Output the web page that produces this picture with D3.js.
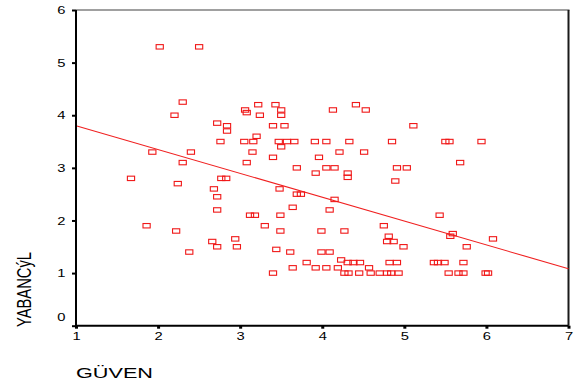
<!DOCTYPE html>
<html>
<head>
<meta charset="utf-8">
<script src="https://cdn.jsdelivr.net/npm/d3@7"></script>
<style>
  html, body { margin: 0; padding: 0; background: #fff; }
  svg { display: block; }
  text { font-family: "Liberation Sans", Arial, sans-serif; fill: #000; }
</style>
</head>
<body>
<svg id="chart" width="575" height="385"></svg>
<script>
// ---- data ----
const guven = [
  2.02, 2.50, 2.30, 2.20, 2.72, 2.84, 2.84, 2.76, 1.93, 2.40,
  2.30, 1.67, 2.77, 2.83, 3.06, 3.08, 3.22, 3.24, 3.43, 3.50,
  3.50, 3.40, 3.54, 3.20, 3.05, 3.16, 3.47, 3.57, 3.66, 3.91,
  3.50, 3.15, 3.08, 3.40, 3.69, 3.96, 3.92, 4.13, 4.41, 4.53,
  5.11, 4.05, 4.33, 4.85, 5.50, 5.55, 5.94, 4.21, 4.51, 4.05,
  4.15, 4.91, 5.03, 5.68, 4.31, 4.31, 4.89, 3.69, 3.74, 4.15,
  4.09, 5.43, 4.75, 3.99, 4.27, 4.81, 5.59, 5.56, 6.08, 4.79,
  4.87, 4.99, 5.76, 3.99, 4.09, 3.81, 4.23, 4.31, 4.38, 4.46,
  4.82, 4.91, 5.36, 5.41, 5.49, 5.72, 3.92, 4.05, 4.19, 4.57,
  4.27, 4.32, 4.45, 4.59, 4.70, 4.79, 4.84, 4.93, 5.54, 5.66,
  5.72, 5.99, 6.02, 2.24, 2.68, 3.48, 2.72, 2.72, 3.64, 1.86,
  3.12, 3.18, 3.49, 3.30, 2.22, 3.49, 2.66, 2.94, 2.72, 2.96,
  2.38, 3.44, 3.61, 3.64, 3.40
];
const yabancil = [
  5.30, 5.30, 4.25, 4.00, 3.85, 3.80, 3.70, 3.50, 3.30, 3.30,
  3.10, 2.80, 2.80, 2.80, 4.10, 4.05, 4.20, 4.00, 4.20, 4.10,
  4.00, 3.80, 3.80, 3.60, 3.50, 3.50, 3.50, 3.50, 3.50, 3.50,
  3.40, 3.30, 3.10, 3.20, 3.00, 3.20, 2.90, 4.10, 4.20, 4.10,
  3.80, 3.50, 3.50, 3.50, 3.50, 3.50, 3.50, 3.30, 3.30, 3.00,
  3.00, 3.00, 3.00, 3.10, 2.90, 2.82, 2.75, 2.50, 2.50, 2.40,
  2.20, 2.10, 1.90, 1.80, 1.80, 1.70, 1.75, 1.70, 1.65, 1.60,
  1.60, 1.50, 1.50, 1.40, 1.40, 1.20, 1.25, 1.20, 1.20, 1.20,
  1.20, 1.20, 1.20, 1.20, 1.20, 1.20, 1.10, 1.10, 1.10, 1.10,
  1.00, 1.00, 1.00, 1.00, 1.00, 1.00, 1.00, 1.00, 1.00, 1.00,
  1.00, 1.00, 1.00, 2.70, 2.60, 2.60, 2.45, 2.20, 2.25, 1.90,
  2.10, 2.10, 2.10, 1.90, 1.80, 1.80, 1.60, 1.65, 1.50, 1.50,
  1.40, 1.45, 1.40, 1.10, 1.00
];
// fitted regression line
const fitIntercept = 4.253;
const fitSlope = -0.453;
const xTicks = [1, 2, 3, 4, 5, 6, 7];
const yTicks = [0, 1, 2, 3, 4, 5, 6];
const xTitle = "GÜVEN";
const yTitle = "YABANCýL";

// ---- layout ----
const svg = d3.select("#chart");
const pL = 76, pR = 568.5, pT = 10, pB = 325.7;
const x = d3.scaleLinear().domain([1, 7]).range([pL, pR]);
const y = d3.scaleLinear().domain([0, 6]).range([pB, pT]);

// top (gray) and right (dark) frame
svg.append("line").attr("x1", pL).attr("x2", pR + 1).attr("y1", pT).attr("y2", pT)
  .attr("stroke", "#808080").attr("stroke-width", 1.6);
svg.append("line").attr("x1", pR).attr("x2", pR).attr("y1", pT).attr("y2", pB)
  .attr("stroke", "#1a1a1a").attr("stroke-width", 2);

// regression line
svg.append("line")
  .attr("x1", x(1)).attr("y1", y(fitIntercept + fitSlope * 1))
  .attr("x2", x(7)).attr("y2", y(fitIntercept + fitSlope * 7))
  .attr("stroke", "#f02020").attr("stroke-width", 1.1);

// points
const pts = guven.map((g, i) => ({ g, v: yabancil[i] }));
svg.append("g").selectAll("rect").data(pts).join("rect")
  .attr("x", d => x(d.g) - 3.6)
  .attr("y", d => y(d.v) - 2.2)
  .attr("width", 7.2).attr("height", 4.4)
  .attr("fill", "none").attr("stroke", "#f01818").attr("stroke-width", 1.1);

// y axis
const yAxis = svg.append("g").attr("transform", `translate(${pL},0)`)
  .call(d3.axisLeft(y).tickValues(yTicks).tickSize(4).tickPadding(6.5).tickFormat(d3.format("d")));
yAxis.select(".domain").attr("stroke", "#000").attr("stroke-width", 2)
  .attr("d", `M0,${pT}V${pB + 1}`);
yAxis.selectAll(".tick line").attr("stroke", "#000").attr("stroke-width", 2);
yAxis.selectAll(".tick text")
  .attr("font-size", 10.5).attr("font-family", "Liberation Sans, Arial, sans-serif")
  .attr("textLength", 8.2).attr("lengthAdjust", "spacingAndGlyphs")
  .attr("dy", d => d === 0 ? "-0.45em" : "0.34em");

// x axis
const xAxis = svg.append("g").attr("transform", `translate(0,${pB})`)
  .call(d3.axisBottom(x).tickValues(xTicks).tickSize(3).tickPadding(3.5).tickFormat(d3.format("d")));
xAxis.select(".domain").attr("stroke", "#000").attr("stroke-width", 2)
  .attr("d", `M${pL - 1},0H${pR}`);
xAxis.selectAll(".tick line").attr("stroke", "#000").attr("stroke-width", 3);
xAxis.selectAll(".tick text")
  .attr("font-size", 10.5).attr("font-family", "Liberation Sans, Arial, sans-serif")
  .attr("textLength", 8.2).attr("lengthAdjust", "spacingAndGlyphs");

// axis titles
svg.append("text").attr("x", 76).attr("y", 378.3)
  .attr("font-size", 14).attr("textLength", 77).attr("lengthAdjust", "spacingAndGlyphs")
  .text(xTitle);
svg.append("text")
  .attr("transform", "translate(31,289.5) scale(1.45,1) rotate(-90)")
  .attr("text-anchor", "middle")
  .attr("font-size", 13.5).attr("textLength", 75).attr("lengthAdjust", "spacingAndGlyphs")
  .text(yTitle);
</script>
</body>
</html>
